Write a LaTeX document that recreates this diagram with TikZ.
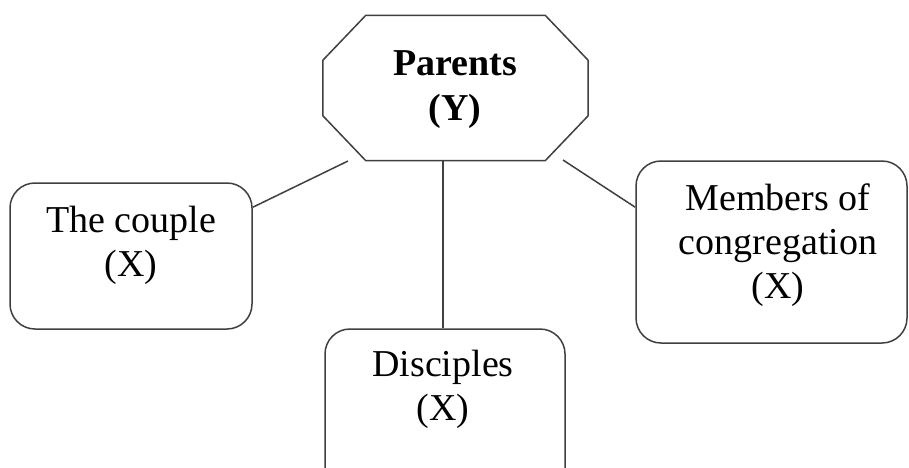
\documentclass[tikz,border=0pt]{standalone}
\usepackage{fontspec}
\setmainfont{Liberation Serif}
\usetikzlibrary{calc}
\tikzset{
  edge/.style={draw=black!75, line width=1.5pt},
  box/.style={edge, rounded corners=25pt, inner sep=0pt},
  frame/.style={inner sep=0pt},
  caption/.style={align=center, inner sep=0pt, text=black,
    font=\fontsize{38}{44}\selectfont},
  heading/.style={caption, font=\fontsize{38}{45}\selectfont\bfseries},
}
\begin{document}
\begin{tikzpicture}[x=1pt,y=-1pt]
\useasboundingbox (0,0) rectangle (909,467);
\clip (0,0) rectangle (909,467);
\fill[white] (0,0) rectangle (909,467);

% octagonal frame for the central term
\node[frame, minimum width=265pt, minimum height=145pt] (parents) at (455.5,88) {};
\draw[edge, line join=round]
  ($(parents.north west)+(43,0)$) -- ($(parents.north east)+(-43,0)$)
  -- ($(parents.north east)+(0,45)$) -- ($(parents.south east)+(0,-45)$)
  -- ($(parents.south east)+(-43,0)$) -- ($(parents.south west)+(43,0)$)
  -- ($(parents.south west)+(0,-45)$) -- ($(parents.north west)+(0,45)$)
  -- cycle;
\node[heading] (ptext) at (455,90) {Parents\\(Y)};

% rounded boxes
\node[box, minimum width=242pt, minimum height=146pt] (couple) at (131,256) {};
\node[caption] (ctext) at (131,245) {The couple\\(X)};

\node[box, minimum width=271pt, minimum height=182pt] (members) at (771.5,252) {};
\node[caption] (mtext) at (778,245.5) {Members of\\congregation\\(X)};

\node[box, minimum width=240pt, minimum height=170pt] (disc) at (445,414) {};
\node[caption] (dtext) at (443,389) {Disciples\\(X)};

% connectors
\coordinate (cl) at (348,161);
\coordinate (cr) at (563,160);
\draw[edge] ($(couple.north east)+(0,25)$) -- (cl);
\draw[edge] (cr) -- ($(members.north west)+(0,47)$);
\draw[edge] (parents.south -| 443,0) -- (disc.north -| 443,0);
\end{tikzpicture}
\end{document}
